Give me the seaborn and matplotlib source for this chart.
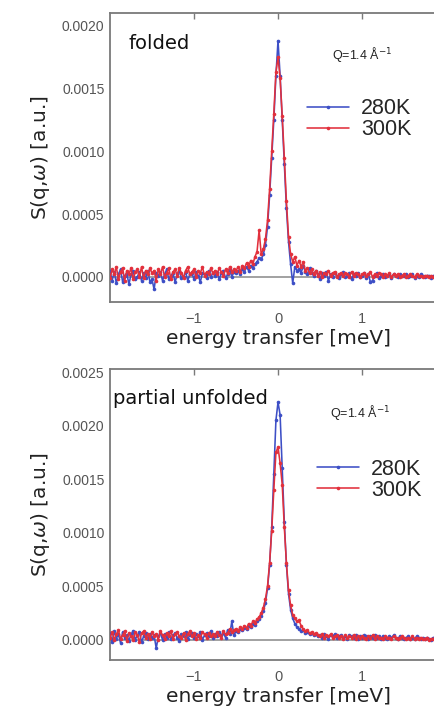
import numpy as np
import pandas as pd
import seaborn as sns
import matplotlib
matplotlib.use("Agg")
import matplotlib.pyplot as plt
from matplotlib.lines import Line2D
from matplotlib.ticker import FormatStrFormatter

# Energy transfer bins [meV]
ENERGY = [
    -2.000, -1.975, -1.950, -1.925, -1.900, -1.875, -1.850, -1.825,
    -1.800, -1.775, -1.750, -1.725, -1.700, -1.675, -1.650, -1.625,
    -1.600, -1.575, -1.550, -1.525, -1.500, -1.475, -1.450, -1.425,
    -1.400, -1.375, -1.350, -1.325, -1.300, -1.275, -1.250, -1.225,
    -1.200, -1.175, -1.150, -1.125, -1.100, -1.075, -1.050, -1.025,
    -1.000, -0.975, -0.950, -0.925, -0.900, -0.875, -0.850, -0.825,
    -0.800, -0.775, -0.750, -0.725, -0.700, -0.675, -0.650, -0.625,
    -0.600, -0.575, -0.550, -0.525, -0.500, -0.475, -0.450, -0.425,
    -0.400, -0.375, -0.350, -0.325, -0.300, -0.275, -0.250, -0.225,
    -0.200, -0.175, -0.150, -0.125, -0.100, -0.075, -0.050, -0.025,
    0.000,
    0.025, 0.050, 0.075, 0.100, 0.125, 0.150, 0.175, 0.200,
    0.225, 0.250, 0.275, 0.300, 0.325, 0.350, 0.375, 0.400,
    0.425, 0.450, 0.475, 0.500, 0.525, 0.550, 0.575, 0.600,
    0.625, 0.650, 0.675, 0.700, 0.725, 0.750, 0.775, 0.800,
    0.825, 0.850, 0.875, 0.900, 0.925, 0.950, 0.975, 1.000,
    1.025, 1.050, 1.075, 1.100, 1.125, 1.150, 1.175, 1.200,
    1.225, 1.250, 1.275, 1.300, 1.325, 1.350, 1.375, 1.400,
    1.425, 1.450, 1.475, 1.500, 1.525, 1.550, 1.575, 1.600,
    1.625, 1.650, 1.675, 1.700, 1.725, 1.750, 1.775, 1.800,
    1.825, 1.850, 1.875, 1.900, 1.925, 1.950, 1.975, 2.000,
]

# S(q, w) in units of 1e-4 a.u.
FOLDED_280K = [
    0.5, -0.3, 0.4, -0.5, 0.2, 0.6, -0.4, 0.1, 0.3, -0.6,
    0.2, 0.5, -0.2, 0.0, 0.4, -0.3, 0.3, -0.1, 0.5, -0.4,
    -0.2, -1.0, 0.3, 0.1, 0.4, -0.3, 0.2, 0.6, -0.2, 0.1,
    0.3, -0.4, 0.2, 0.5, -0.1, 0.0, 0.4, -0.3, 0.2, 0.3,
    -0.2, 0.4, 0.1, -0.4, 0.3, 0.2, -0.1, 0.5, 0.0, 0.3,
    0.1, 0.4, -0.2, 0.3, 0.5, -0.1, 0.2, 0.6, 0.0, 0.4,
    0.3, 0.5, 0.2, 0.6, 0.4, 0.8, 0.5, 0.9, 0.7, 1.0,
    1.2, 1.5, 1.4, 1.8, 2.5, 4.0, 6.5, 9.5, 12.5, 16.0,
    18.8,
    16.0, 12.5, 9.0, 5.5, 2.8, 1.0, -0.5, 0.8, 0.5,
    0.6, 0.3, 0.9, 0.4, 0.2, 0.7, 0.3, 0.1, 0.5, 0.2,
    -0.2, 0.3, 0.1, 0.4, -0.3, 0.2, 0.0, 0.3, 0.1, -0.1,
    0.2, 0.4, 0.0, 0.1, 0.3, -0.2, 0.2, 0.1, 0.3, 0.0,
    0.1, 0.3, -0.1, 0.2, -0.4, -0.3, 0.1, 0.3, -0.1, 0.1,
    0.2, 0.0, 0.1, 0.2, -0.1, 0.2, 0.1, 0.0, 0.2, 0.1,
    0.1, 0.2, 0.0, 0.1, 0.2, -0.1, 0.1, 0.0, 0.2, 0.1,
    0.0, 0.1, 0.1, -0.1, 0.1, 0.0, 0.1, 0.0, 0.1, 0.0, 0.1,
]

FOLDED_300K = [
    -0.1, 0.6, 0.2, 0.8, -0.2, 0.4, 0.7, -0.3, 0.5, 0.2,
    0.7, -0.2, 0.4, 0.6, 0.0, 0.8, -0.1, 0.5, 0.2, 0.7,
    0.3, 0.5, -0.3, 0.6, 0.2, 0.8, 0.0, 0.3, 0.7, -0.2,
    0.4, 0.6, 0.1, 0.7, 0.3, -0.1, 0.5, 0.8, 0.2, 0.4,
    0.6, 0.0, 0.5, 0.3, 0.8, 0.1, 0.4, 0.2, 0.7, 0.3,
    0.5, 0.2, 0.7, 0.4, 0.1, 0.6, 0.3, 0.8, 0.4, 0.6,
    0.5, 0.8, 0.4, 0.9, 0.7, 1.1, 0.8, 1.3, 1.0, 1.6,
    2.0, 3.7, 1.8, 2.2, 3.0, 4.5, 7.0, 10.0, 13.0, 16.3,
    17.5,
    15.8, 12.8, 9.5, 6.0, 3.2, 1.8, 1.2, 1.6, 0.9,
    1.3, 0.8, 1.2, 0.5, 0.7, 0.3, 0.6, 0.2, 0.5, 0.1,
    0.4, 0.0, 0.3, 0.2, 0.5, 0.1, 0.3, 0.4, 0.0, 0.2,
    0.3, 0.1, 0.3, 0.2, 0.0, 0.4, 0.1, 0.3, 0.2, 0.0,
    0.2, 0.3, 0.1, 0.2, 0.4, 0.0, 0.2, 0.1, 0.3, 0.2,
    0.0, 0.2, 0.1, 0.3, 0.0, 0.2, 0.1, 0.2, 0.0, 0.1,
    0.2, 0.0, 0.1, 0.2, 0.1, 0.0, 0.2, 0.1, 0.1, 0.0,
    0.1, 0.1, 0.0, 0.1, 0.0, 0.1, 0.1, 0.0, 0.1, 0.0, 0.1,
]

UNFOLDED_280K = [
    0.6, -0.2, 0.8, 0.1, 0.5, -0.3, 0.7, 0.2, 0.4, -0.1,
    0.5, 0.8, 0.0, 0.4, 0.7, -0.2, 0.3, 0.6, 0.1, 0.5,
    0.2, 0.4, -0.8, 0.3, 0.6, 0.0, 0.5, 0.2, 0.7, 0.1,
    0.4, 0.6, 0.2, -0.1, 0.5, 0.3, 0.7, 0.1, 0.4, 0.6,
    0.2, 0.5, 0.3, 0.7, 0.0, 0.4, 0.6, 0.3, 0.8, 0.2,
    0.5, 0.3, 0.7, 0.4, 0.6, 0.2, 0.9, 0.5, 1.7, 0.4,
    0.8, 0.7, 1.0, 0.9, 1.1, 1.0, 1.3, 1.2, 1.5, 1.4,
    1.7, 1.9, 2.2, 2.7, 3.4, 4.8, 7.0, 10.5, 15.5, 20.5,
    22.2,
    21.0, 16.0, 11.0, 7.0, 4.3, 2.8, 2.0, 1.5, 1.2,
    1.0, 0.8, 0.9, 0.6, 0.7, 0.5, 0.6, 0.4, 0.5, 0.3,
    0.4, 0.2, 0.5, 0.3, 0.1, 0.4, 0.3, 0.5, 0.2, 0.3,
    0.4, 0.2, 0.3, 0.1, 0.4, 0.3, 0.2, 0.4, 0.1, 0.3,
    0.2, 0.4, 0.3, 0.1, 0.3, 0.2, 0.4, 0.2, 0.3, 0.1,
    0.3, 0.2, 0.1, 0.3, 0.2, 0.4, 0.2, 0.1, 0.3, 0.2,
    0.1, 0.2, 0.3, 0.1, 0.2, 0.1, 0.3, 0.2, 0.1, 0.2,
    0.1, 0.2, 0.1, 0.0, 0.2, 0.1, 0.1, 0.0, 0.1, 0.1, 0.0,
]

UNFOLDED_300K = [
    0.2, 0.7, 0.0, 0.5, 0.9, 0.1, 0.4, 0.8, -0.1, 0.6,
    0.3, 0.0, 0.7, 0.4, -0.2, 0.6, 0.8, 0.2, 0.5, 0.1,
    0.7, 0.3, 0.5, 0.0, 0.8, 0.4, 0.1, 0.6, 0.3, 0.8,
    0.1, 0.5, 0.7, 0.3, 0.2, 0.6, 0.0, 0.5, 0.8, 0.3,
    0.6, 0.1, 0.4, 0.2, 0.7, 0.5, 0.2, 0.6, 0.3, 0.5,
    0.3, 0.7, 0.4, 0.2, 0.8, 0.5, 0.6, 1.0, 0.7, 0.9,
    1.0, 0.8, 1.2, 1.0, 1.3, 1.1, 1.5, 1.3, 1.7, 1.6,
    1.9, 2.1, 2.5, 3.0, 3.8, 5.0, 7.2, 10.2, 14.0, 17.5,
    18.0,
    16.5, 14.5, 10.5, 7.2, 4.6, 3.2, 2.3, 2.0, 1.7,
    1.8, 1.3, 1.0, 0.8, 0.9, 0.6, 0.7, 0.5, 0.6, 0.4,
    0.3, 0.5, 0.2, 0.4, 0.3, 0.5, 0.2, 0.3, 0.4, 0.2,
    0.3, 0.1, 0.4, 0.2, 0.3, 0.2, 0.4, 0.1, 0.3, 0.2,
    0.3, 0.2, 0.1, 0.3, 0.2, 0.4, 0.1, 0.3, 0.2, 0.2,
    0.1, 0.3, 0.2, 0.2, 0.1, 0.3, 0.2, 0.1, 0.2, 0.3,
    0.2, 0.1, 0.2, 0.1, 0.3, 0.1, 0.2, 0.1, 0.2, 0.1,
    0.1, 0.2, 0.0, 0.1, 0.1, 0.2, 0.0, 0.1, 0.1, 0.0, 0.1,
]

TEMPERATURES = ["280K", "300K"]
PANEL_TITLES = ["folded", "partial unfolded"]
Y_TICKS = [
    [0.0, 0.0005, 0.0010, 0.0015, 0.0020],
    [0.0, 0.0005, 0.0010, 0.0015, 0.0020, 0.0025],
]
X_TICKS = [-1, 0, 1]

SCALE = 1e-4
COLORS = {"280K": "#3d4fc6", "300K": "#e2303c"}
GRAY = "#7a7a7a"
LW = 1.15
MS = 2.6


def long_table(series_280, series_300):
    frames = []
    for temp, vals in zip(TEMPERATURES, (series_280, series_300)):
        if len(vals) != len(ENERGY):
            raise ValueError(f"{temp}: {len(vals)} values for {len(ENERGY)} bins")
        frames.append(pd.DataFrame({
            "energy": ENERGY,
            "S": np.asarray(vals) * SCALE,
            "T": temp,
        }))
    return pd.concat(frames, ignore_index=True)


sns.set_theme(style="white")
plt.rcParams["font.family"] = ["DejaVu Sans"]
plt.rcParams["mathtext.fontset"] = "dejavusans"

fig = plt.figure(figsize=(4.34, 7.10), dpi=100)
fig.patch.set_facecolor("white")
ax_top = fig.add_axes([0.2535, 0.5746, 0.7742, 0.4071])
ax_bot = fig.add_axes([0.2535, 0.0704, 0.7742, 0.4099])

panels = [
    (ax_top, long_table(FOLDED_280K, FOLDED_300K), (-0.0002, 0.0021), (0.586, 0.633), (0.661, 0.855)),
    (ax_bot, long_table(UNFOLDED_280K, UNFOLDED_300K), (-0.00019, 0.00253), (0.616, 0.619), (0.655, 0.852)),
]

for k, (ax, df, ylim, leg_xy, q_xy) in enumerate(panels):
    ax.axhline(0, color="#9a9a9a", lw=1.3, zorder=1)
    sns.lineplot(
        data=df, x="energy", y="S", hue="T", hue_order=TEMPERATURES,
        palette=COLORS, estimator=None, sort=False, legend=False,
        marker="o", markersize=MS, markeredgewidth=0, linewidth=LW,
        ax=ax, zorder=3,
    )
    ax.set_xlim(-2.0, 2.0)
    ax.set_ylim(*ylim)
    ax.set_xticks(X_TICKS)
    ax.set_yticks(Y_TICKS[k])
    ax.yaxis.set_major_formatter(FormatStrFormatter("%.4f"))
    ax.tick_params(direction="in", length=4, width=1, color=GRAY,
                   top=True, right=True, labelcolor="#555555")
    ax.tick_params(axis="y", labelsize=10, pad=4)
    ax.tick_params(axis="x", labelsize=10.5, pad=7)
    for lab in ax.get_xticklabels() + ax.get_yticklabels():
        lab.set_fontfamily("Liberation Sans")
    for sp in ax.spines.values():
        sp.set_color(GRAY)
        sp.set_linewidth(1.3)
    ax.set_xlabel("energy transfer [meV]", fontsize=14.5, color="#222222", labelpad=2)
    ax.set_ylabel(r"S(q,$\omega$) [a.u.]", fontsize=14.5, color="#222222", labelpad=7)

    ax.text(0.054 if k == 0 else 0.009, 0.896 if k == 0 else 0.90, PANEL_TITLES[k],
            transform=ax.transAxes, fontsize=14, color="#111111",
            ha="left", va="center")
    ax.text(q_xy[0], q_xy[1], r"Q=1.4 Å$^{-1}$", transform=ax.transAxes,
            fontsize=9, color="#222222", ha="left", va="center",
            fontfamily="Liberation Sans")

    handles = [Line2D([], [], color=COLORS[t], lw=LW, marker="o",
                      markersize=MS, markeredgewidth=0) for t in TEMPERATURES]
    ax.legend(handles, TEMPERATURES, loc="center left", bbox_to_anchor=leg_xy,
              frameon=False, borderpad=0, borderaxespad=0, handlelength=1.95,
              handletextpad=0.55, labelspacing=0.0, numpoints=1,
              prop={"family": "Liberation Sans", "size": 15.5})

fig.savefig("out.png", dpi=100, facecolor="white")
